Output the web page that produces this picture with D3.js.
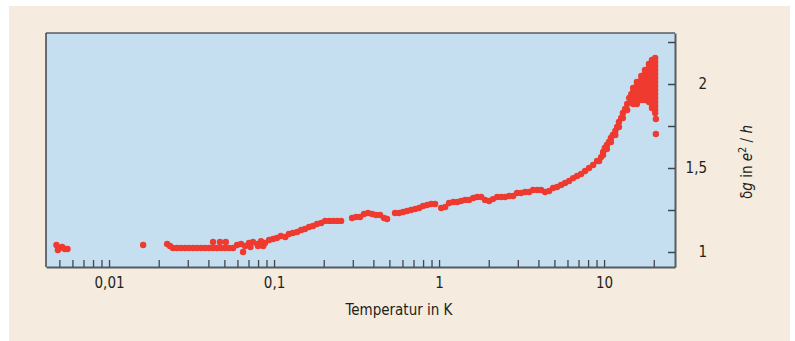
<!DOCTYPE html>
<html>
<head>
<meta charset="utf-8">
<script src="https://cdn.jsdelivr.net/npm/d3@7"></script>
<style>
  html, body { margin: 0; padding: 0; background: #ffffff; }
  svg { display: block; }
  text { font-family: "Liberation Sans Narrow", "DejaVu Sans Condensed", "Roboto", sans-serif; }
</style>
</head>
<body>
<svg id="chart" width="795" height="341"></svg>
<script>
// ---- data ----
const temperature = [
  0.0048, 0.0050, 0.0052, 0.0054, 0.0056, 0.0049,
  0.0161,
  0.0225, 0.0234,
  0.0244, 0.0258, 0.0273, 0.0289, 0.0305, 0.0323, 0.0341, 0.0361, 0.0382, 0.0404, 0.0427, 0.0451, 0.0477, 0.0505, 0.0534, 0.0565,
  0.0427, 0.0470, 0.0510,
  0.0649,
  0.0597, 0.0631, 0.0667, 0.0705, 0.0746, 0.0789, 0.0834, 0.0881, 0.0933, 0.0986,
  0.0720, 0.0800, 0.0860,
  0.104, 0.110, 0.117, 0.123, 0.130, 0.138, 0.146, 0.154, 0.163, 0.172, 0.182, 0.193, 0.204, 0.216, 0.228, 0.241, 0.255,
  0.297, 0.314, 0.332, 0.351, 0.371, 0.393, 0.415, 0.439, 0.464, 0.484,
  0.541, 0.572, 0.605, 0.640, 0.676, 0.716, 0.757, 0.800, 0.846, 0.895, 0.946,
  1.03, 1.09, 1.15, 1.22, 1.29, 1.36, 1.44, 1.52, 1.61, 1.70, 1.80, 1.90, 2.01, 2.12, 2.25, 2.38, 2.51, 2.66, 2.81,
  2.97, 3.14, 3.32, 3.51, 3.71, 3.93, 4.15, 4.39, 4.64, 4.91, 5.19, 5.49, 5.80, 6.14, 6.49, 6.86, 7.26, 7.67, 8.11, 8.58, 9.07, 9.59,
  9.86, 10.1, 10.4, 10.7, 11.0, 11.3, 11.7, 12.0, 12.3, 12.7, 13.0, 13.4, 13.8, 14.2, 14.6,
  9.33, 9.86, 10.4, 11.0, 11.7, 12.3, 13.0, 13.8, 14.6,
  15.0, 15.0, 15.0, 15.0, 15.0,
  15.8, 15.8, 15.8, 15.8, 15.8, 15.8, 15.8,
  16.8, 16.8, 16.8, 16.8, 16.8, 16.8, 16.8,
  17.7, 17.7, 17.7, 17.7, 17.7, 17.7, 17.7, 17.7, 17.7,
  18.7, 18.7, 18.7, 18.7, 18.7, 18.7, 18.7, 18.7, 18.7, 18.7, 18.7,
  19.5, 19.5, 19.5, 19.5, 19.5, 19.5, 19.5, 19.5, 19.5, 19.5, 19.5, 19.5, 19.5,
  20.4, 20.4, 20.4, 20.4, 20.4, 20.4, 20.4, 20.4, 20.4, 20.4, 20.4, 20.4, 20.4, 20.4, 20.4,
  20.6, 20.6
];
const conductance = [
  1.042, 1.024, 1.030, 1.018, 1.018, 1.012,
  1.042,
  1.048, 1.036,
  1.024, 1.024, 1.024, 1.024, 1.024, 1.024, 1.024, 1.024, 1.024, 1.024, 1.024, 1.024, 1.024, 1.024, 1.024, 1.024,
  1.060, 1.060, 1.060,
  1.000,
  1.042, 1.048, 1.036, 1.054, 1.060, 1.048, 1.065, 1.054, 1.071, 1.077,
  1.030, 1.036, 1.036,
  1.083, 1.095, 1.089, 1.107, 1.113, 1.119, 1.131, 1.137, 1.149, 1.155, 1.167, 1.173, 1.185, 1.185, 1.185, 1.185, 1.185,
  1.202, 1.208, 1.208, 1.226, 1.232, 1.226, 1.220, 1.220, 1.202, 1.196,
  1.232, 1.232, 1.238, 1.244, 1.250, 1.256, 1.262, 1.274, 1.280, 1.286, 1.286,
  1.262, 1.268, 1.292, 1.298, 1.298, 1.304, 1.310, 1.310, 1.321, 1.327, 1.327, 1.310, 1.304, 1.315, 1.327, 1.327, 1.327, 1.333, 1.333,
  1.351, 1.351, 1.357, 1.357, 1.369, 1.369, 1.369, 1.357, 1.363, 1.381, 1.387, 1.399, 1.411, 1.423, 1.440, 1.452, 1.464, 1.482, 1.500, 1.518, 1.542, 1.565,
  1.595, 1.619, 1.637, 1.655, 1.679, 1.696, 1.720, 1.744, 1.774, 1.798, 1.827, 1.851, 1.881, 1.917, 1.940,
  1.542, 1.577, 1.613, 1.655, 1.696, 1.744, 1.798, 1.845, 1.899,
  1.976, 1.952, 1.929, 1.905, 1.881,
  2.012, 1.988, 1.964, 1.940, 1.917, 1.899, 1.881,
  2.048, 2.024, 2.000, 1.976, 1.952, 1.929, 1.905,
  2.083, 2.060, 2.036, 2.012, 1.988, 1.964, 1.940, 1.923, 1.905,
  2.119, 2.095, 2.071, 2.048, 2.024, 2.000, 1.976, 1.952, 1.929, 1.911, 1.893,
  2.143, 2.119, 2.095, 2.071, 2.048, 2.024, 2.000, 1.976, 1.952, 1.929, 1.905, 1.881, 1.857,
  2.155, 2.131, 2.107, 2.083, 2.060, 2.036, 2.012, 1.988, 1.964, 1.940, 1.917, 1.893, 1.869, 1.845, 1.827,
  1.792, 1.702
];
const xTicks = [0.005, 0.006, 0.007, 0.008, 0.009, 0.01, 0.02, 0.03, 0.04, 0.05, 0.06, 0.07, 0.08, 0.09, 0.1,
  0.2, 0.3, 0.4, 0.5, 0.6, 0.7, 0.8, 0.9, 1, 2, 3, 4, 5, 6, 7, 8, 9, 10, 20];
const xTickLabels = { 0.01: "0,01", 0.1: "0,1", 1: "1", 10: "10" };
const yTicks = [1, 1.25, 1.5, 1.75, 2, 2.25];
const yTickLabels = { 1: "1", 1.5: "1,5", 2: "2" };
const xTitle = "Temperatur in K";

// ---- layout ----
const svg = d3.select("#chart");
const pLeft = 46, pRight = 675, pTop = 33, pBottom = 267;

svg.append("rect").attr("x", 9).attr("y", 6).attr("width", 781).attr("height", 335).attr("fill", "#f5ebde");
svg.append("rect").attr("x", pLeft).attr("y", pTop).attr("width", pRight - pLeft).attr("height", pBottom - pTop).attr("fill", "#c5dff1");

const x = d3.scaleLog().domain([0.00415, 26.9]).range([pLeft, pRight]);
const y = d3.scaleLinear().domain([0.9107, 2.3036]).range([pBottom, pTop]);

// frame (top and left)
svg.append("line").attr("x1", pLeft).attr("x2", pRight).attr("y1", pTop).attr("y2", pTop)
  .attr("stroke", "#555b61").attr("stroke-width", 1.6);
svg.append("line").attr("x1", pLeft).attr("x2", pLeft).attr("y1", pTop).attr("y2", pBottom)
  .attr("stroke", "#33383d").attr("stroke-width", 1.4);

// points
const pts = temperature.map((t, i) => [t, conductance[i]]);
svg.append("g").selectAll("circle").data(pts).join("circle")
  .attr("cx", d => x(d[0])).attr("cy", d => y(d[1])).attr("r", 3.2)
  .attr("fill", "#ef3a2f");

// bottom axis
const gx = svg.append("g").attr("transform", `translate(0,${pBottom})`)
  .call(d3.axisBottom(x).tickValues(xTicks).tickSizeInner(-7).tickSizeOuter(0).tickPadding(10)
    .tickFormat(d => xTickLabels[d] || ""));
gx.select(".domain").attr("stroke", "#555b61").attr("stroke-width", 2);
gx.selectAll(".tick line").attr("stroke", "#41464b").attr("stroke-width", 1.3);
gx.selectAll(".tick text").attr("font-size", 15).attr("fill", "#231f20");

// right axis
const gy = svg.append("g").attr("transform", `translate(${pRight},0)`)
  .call(d3.axisRight(y).tickValues(yTicks).tickSizeInner(-7).tickSizeOuter(0)
    .tickFormat(d => yTickLabels[d] || ""));
gy.select(".domain").attr("stroke", "#555b61").attr("stroke-width", 2);
gy.selectAll(".tick line").attr("stroke", "#41464b").attr("stroke-width", 1.5);
gy.selectAll(".tick text").attr("font-size", 15).attr("fill", "#231f20")
  .attr("text-anchor", "end").attr("x", 32);

// axis titles
svg.append("text").attr("x", 399).attr("y", 315).attr("text-anchor", "middle")
  .attr("font-size", 15).attr("fill", "#231f20").text(xTitle);

const yt = svg.append("text").attr("transform", "translate(752,162) rotate(-90)")
  .attr("text-anchor", "middle").attr("font-size", 15).attr("fill", "#231f20");
yt.append("tspan").text("δ");
yt.append("tspan").attr("font-style", "italic").text("g");
yt.append("tspan").text(" in ");
yt.append("tspan").attr("font-style", "italic").text("e");
yt.append("tspan").attr("font-size", 11).attr("dy", -6).text("2");
yt.append("tspan").attr("dy", 6).text(" / ");
yt.append("tspan").attr("font-style", "italic").text("h");
</script>
</body>
</html>
